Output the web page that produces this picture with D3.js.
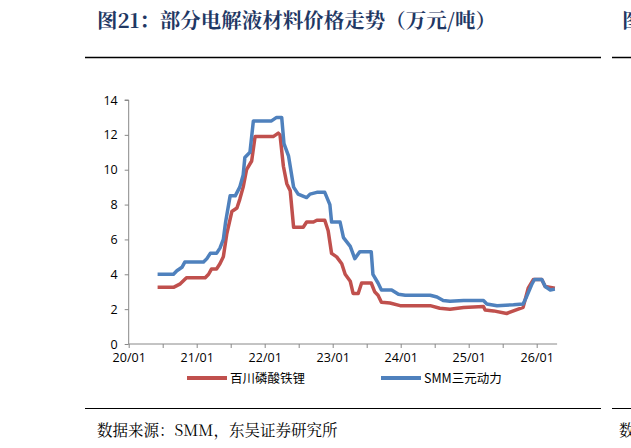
<!DOCTYPE html><html><head><meta charset="utf-8"><script src="https://cdn.jsdelivr.net/npm/d3@7"></script>
<style>body{margin:0;background:#fff}</style></head><body><svg id="c" width="631" height="448"></svg>
<script>
const yearLabels=["20/01","21/01","22/01","23/01","24/01","25/01","26/01"];
const yTicks=[0,2,4,6,8,10,12,14];
const seriesNames=["百川磷酸铁锂","SMM三元动力"];
// [months since 2020-01, value]
const lfp=[[5.1,3.25],[7.9,3.25],[9.1,3.45],[10.2,3.8],[13.5,3.8],[14.1,4.0],[14.6,4.3],[15.5,4.3],[16.1,4.6],[16.7,5.0],[17.3,6.3],[18.2,7.6],[19.1,7.8],[19.6,8.3],[20.2,9.0],[20.8,10.0],[21.7,10.5],[22.3,11.9],[25.5,11.9],[26.4,12.1],[26.7,12.0],[27.3,10.2],[27.9,9.2],[28.5,8.8],[29.1,6.7],[30.8,6.7],[31.4,7.0],[32.6,7.0],[33.2,7.1],[34.6,7.1],[35.2,6.5],[35.8,5.2],[36.7,5.0],[37.6,4.6],[38.2,4.0],[39.1,3.6],[39.6,2.9],[40.5,2.9],[41.1,3.5],[42.8,3.5],[43.4,3.0],[44.0,2.8],[44.6,2.4],[46.1,2.35],[47.9,2.2],[53.2,2.2],[54.9,2.05],[56.7,2.0],[59.1,2.1],[62.6,2.15],[62.9,1.95],[64.4,1.9],[66.7,1.75],[67.9,1.9],[69.6,2.1],[70.5,3.2],[71.4,3.7],[72.9,3.7],[73.5,3.3],[75.2,3.2]];
const ncm=[[5.1,4.0],[7.9,4.0],[8.5,4.2],[9.4,4.4],[9.9,4.7],[13.2,4.7],[13.8,4.9],[14.4,5.2],[15.5,5.2],[16.1,5.5],[16.7,6.0],[17.1,7.0],[17.9,8.5],[18.8,8.5],[19.6,9.0],[20.2,9.7],[20.5,10.7],[21.4,11.0],[22.0,12.8],[25.2,12.8],[26.1,13.0],[27.0,13.0],[27.4,11.5],[28.2,10.8],[29.1,9.0],[29.9,8.6],[31.4,8.4],[32.0,8.6],[33.2,8.7],[34.6,8.7],[35.5,8.0],[35.8,7.0],[37.3,7.0],[37.9,6.1],[39.1,5.6],[39.9,4.9],[40.8,5.3],[42.8,5.3],[43.1,4.0],[44.0,3.5],[44.6,3.1],[46.4,3.1],[47.6,2.85],[48.8,2.8],[53.2,2.8],[54.4,2.7],[55.5,2.5],[56.7,2.45],[59.1,2.5],[62.6,2.5],[63.2,2.3],[65.0,2.2],[67.9,2.25],[69.6,2.3],[70.2,2.7],[71.1,3.4],[71.6,3.7],[72.9,3.7],[73.5,3.3],[74.4,3.1],[75.2,3.15]];
const colors=["#c0504d","#4f81bd"];
const svg=d3.select("#c");
const F="'Noto Sans CJK SC','Noto Sans',sans-serif";
const S="'Noto Serif CJK SC','Noto Sans CJK SC',serif";
svg.append("text").attr("x",97).attr("y",28).attr("font-family",S).attr("font-weight","bold").attr("font-size",20.5).attr("fill","#1f3864").text("图21：部分电解液材料价格走势（万元/吨）");
svg.append("text").attr("x",622).attr("y",28).attr("font-family",S).attr("font-weight","bold").attr("font-size",20.5).attr("fill","#1f3864").text("图");
svg.append("line").attr("x1",85).attr("x2",601).attr("y1",57.5).attr("y2",57.5).attr("stroke","#000").attr("stroke-width",1.5);
svg.append("line").attr("x1",612).attr("x2",631).attr("y1",57.5).attr("y2",57.5).attr("stroke","#000").attr("stroke-width",1.5);
svg.append("line").attr("x1",85).attr("x2",601).attr("y1",408.5).attr("y2",408.5).attr("stroke","#000").attr("stroke-width",1);
svg.append("line").attr("x1",612).attr("x2",631).attr("y1",408.5).attr("y2",408.5).attr("stroke","#000").attr("stroke-width",1);
svg.append("text").attr("x",97).attr("y",436).attr("font-family",S).attr("font-size",15.5).attr("fill","#000").text("数据来源：SMM，东吴证券研究所");
svg.append("text").attr("x",619).attr("y",436).attr("font-family",S).attr("font-size",15.5).text("数");
const x=d3.scaleLinear().domain([0,72]).range([128.7,536.7]);
const y=d3.scaleLinear().domain([0,14]).range([344,100]);
const xr=x(75.6);
const ga=svg.append("g").attr("transform","translate(128.7,0)");
ga.call(d3.axisLeft(y).tickValues(yTicks).tickSize(4).tickPadding(7));
ga.select(".domain").attr("d",`M-4,${y(14)}H0V${y(0)}`);
const gx=svg.append("g").attr("transform",`translate(0,${y(0)})`);
gx.call(d3.axisBottom(x).tickValues(d3.range(0,73,6)).tickSize(4).tickFormat(d=>d%12===0?yearLabels[d/12]:"").tickPadding(5));
gx.select(".domain").attr("d",`M${x(0)},0H${xr}`);
svg.selectAll(".tick text").attr("font-family","'Open Sans','Noto Sans',sans-serif").attr("font-size",12.5).attr("fill","#000");
svg.selectAll(".domain,.tick line").attr("stroke","#888");
const line=d3.line().x(d=>x(d[0])).y(d=>y(d[1]));
[lfp,ncm].forEach((s,i)=>svg.append("path").datum(s).attr("d",line).attr("fill","none").attr("stroke",colors[i]).attr("stroke-width",3.5).attr("stroke-linejoin","round"));
[[187,230],[381,424]].forEach((p,i)=>{
 svg.append("line").attr("x1",p[0]).attr("x2",p[0]+40).attr("y1",378).attr("y2",378).attr("stroke",colors[i]).attr("stroke-width",4);
 svg.append("text").attr("x",p[1]).attr("y",383).attr("font-family",F).attr("font-size",12.5).attr("fill","#000").text(seriesNames[i]);
});
</script></body></html>
